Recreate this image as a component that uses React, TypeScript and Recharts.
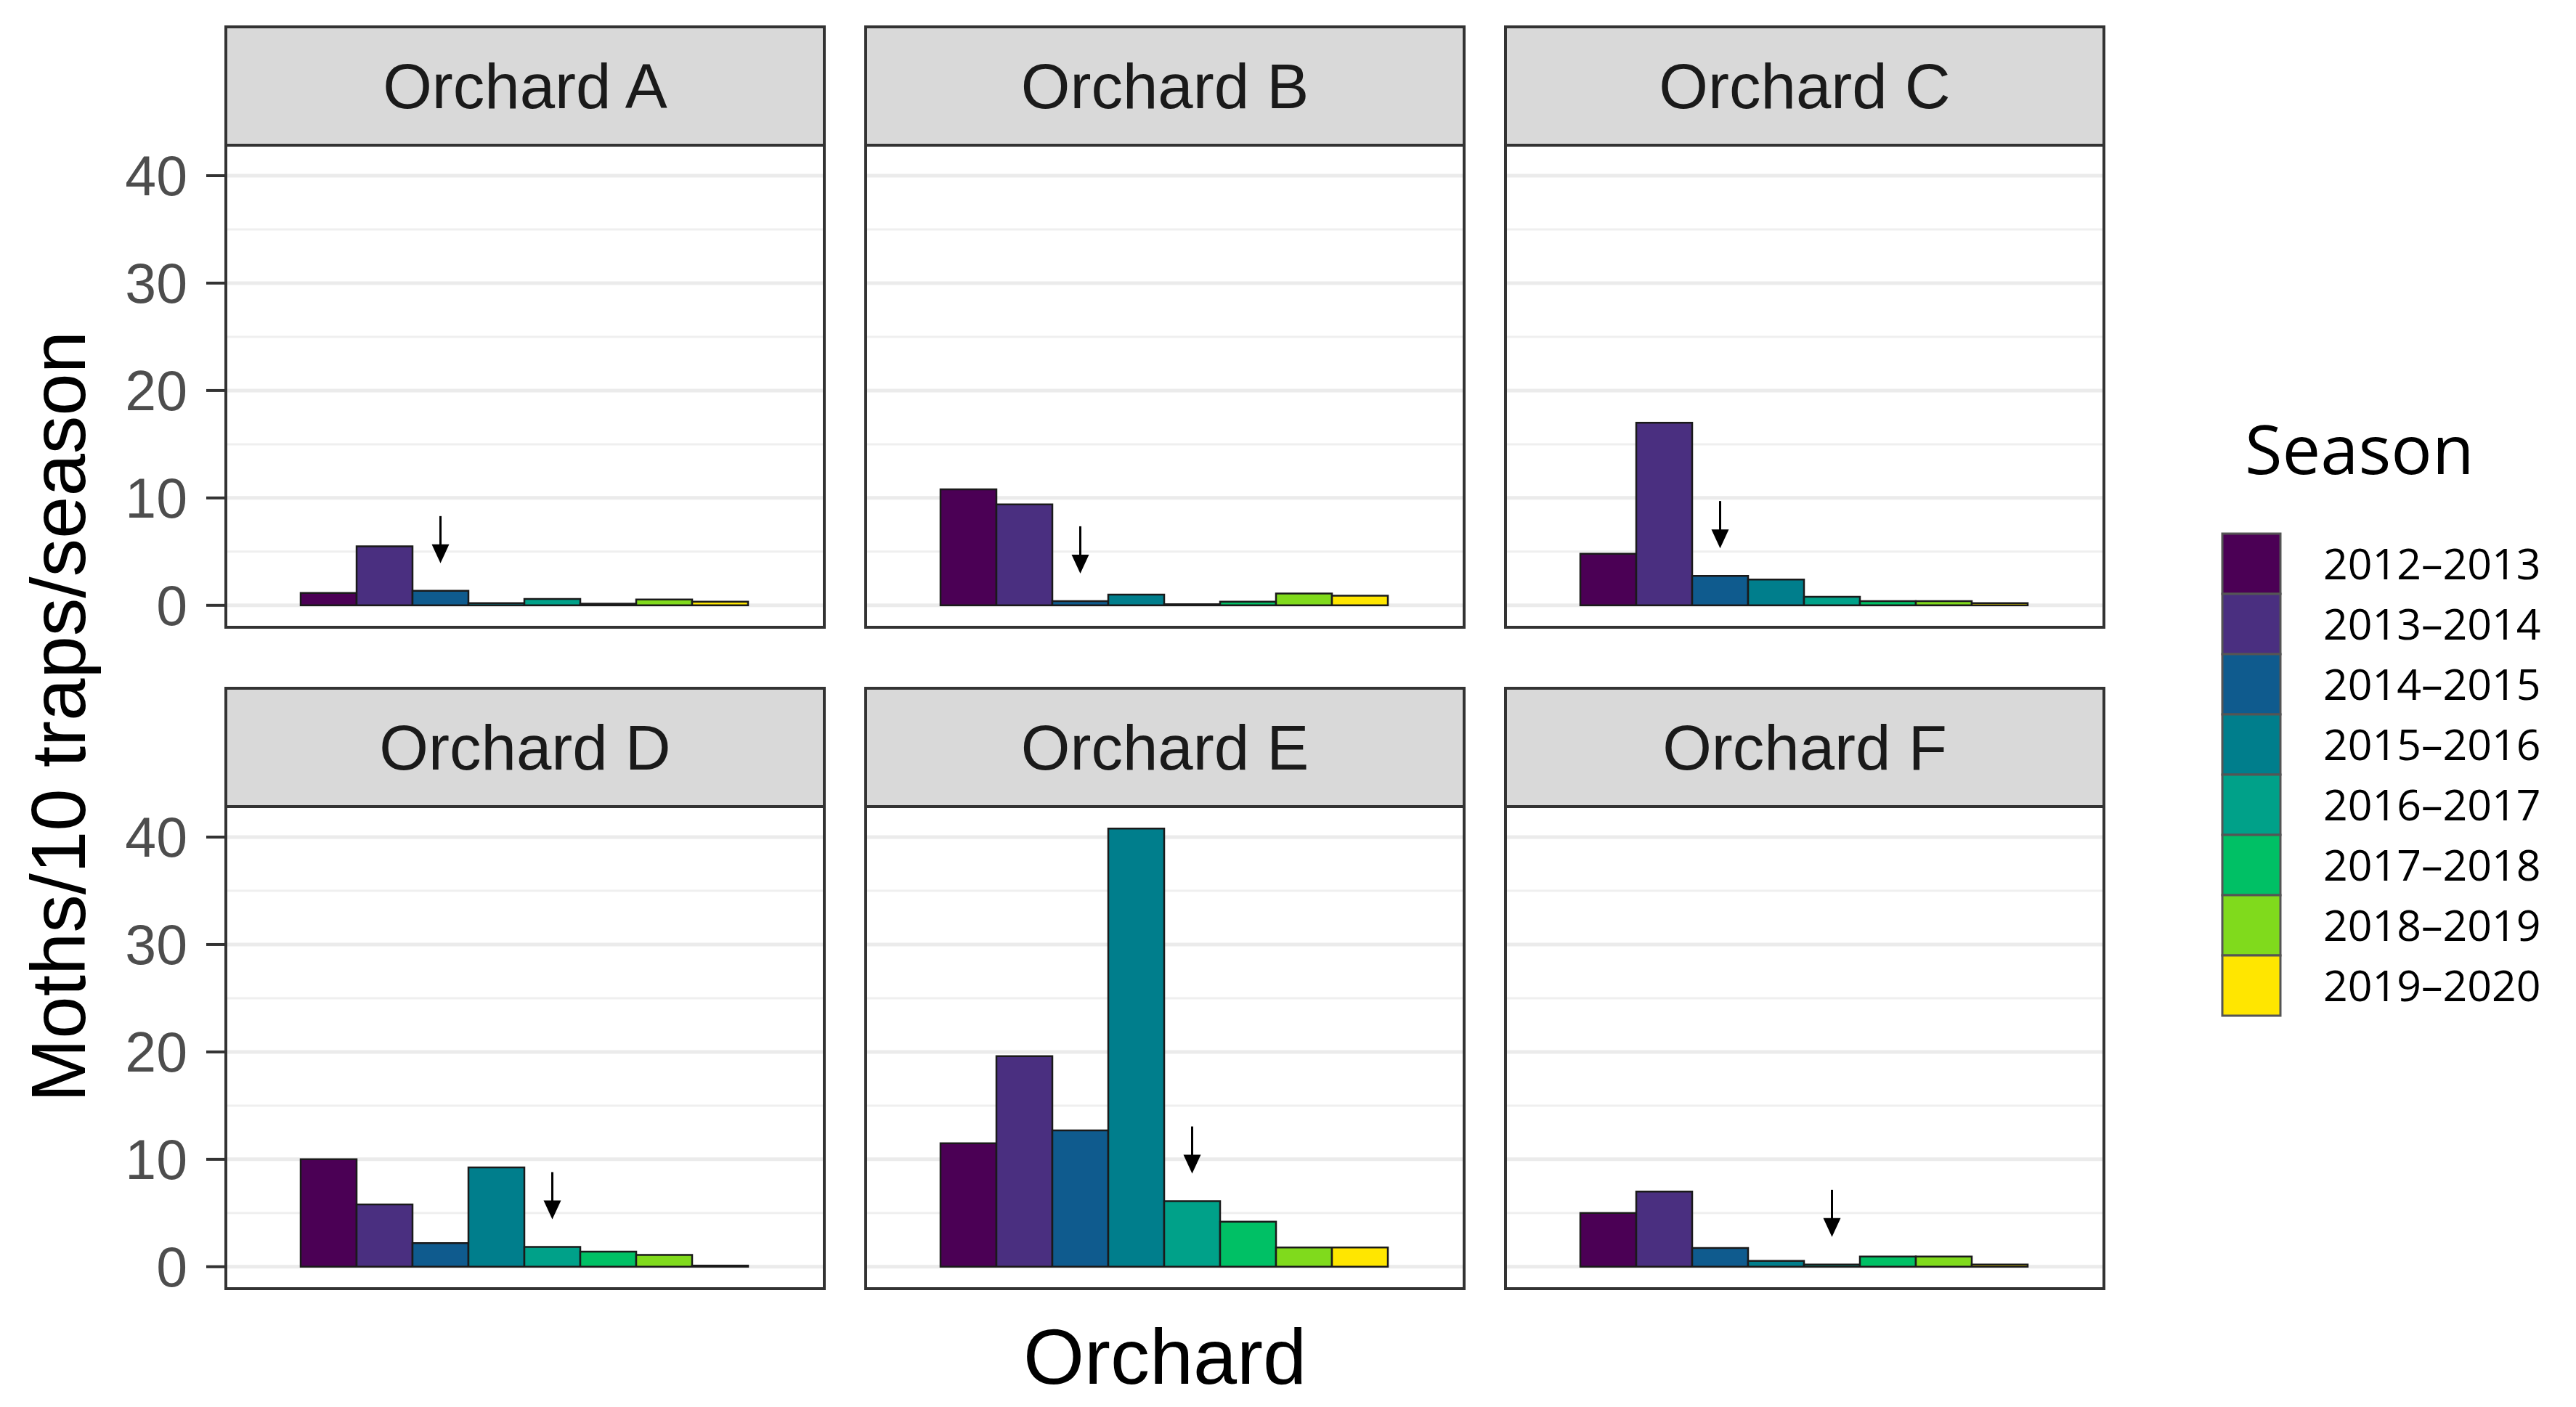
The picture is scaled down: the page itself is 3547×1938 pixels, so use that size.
import React from 'react';
import { BarChart, Bar, XAxis, YAxis, CartesianGrid } from 'recharts';

const seasons = ['2012–2013', '2013–2014', '2014–2015', '2015–2016', '2016–2017', '2017–2018', '2018–2019', '2019–2020'];
const seasonColors = ['#4B0055', '#4A2F80', '#0F5B8E', '#007E8C', '#00A189', '#00C065', '#80DA1C', '#FFE600'];
const orchards = ['Orchard A', 'Orchard B', 'Orchard C', 'Orchard D', 'Orchard E', 'Orchard F'];

const valuesA = [1.15, 5.5, 1.35, 0.2, 0.6, 0.15, 0.55, 0.35];
const valuesB = [10.8, 9.4, 0.4, 1.0, 0.1, 0.35, 1.1, 0.9];
const valuesC = [4.8, 17.0, 2.75, 2.4, 0.8, 0.4, 0.4, 0.2];
const valuesD = [10.0, 5.8, 2.2, 9.25, 1.85, 1.4, 1.1, 0.1];
const valuesE = [11.5, 19.6, 12.7, 40.8, 6.1, 4.2, 1.8, 1.8];
const valuesF = [5.0, 7.0, 1.75, 0.55, 0.2, 0.95, 0.95, 0.2];
const orchardValues = [valuesA, valuesB, valuesC, valuesD, valuesE, valuesF];

// season index marked with a downward arrow in each orchard
const arrowSeason = [2, 2, 2, 4, 4, 4];

const yTicks = [0, 10, 20, 30, 40];
const yMinorGrid = [5, 15, 25, 35];

const dataMax = Math.max(...orchardValues.flat());
const yDomain = [-0.05 * dataMax, 1.05 * dataMax];

const W = 3547;
const H = 1938;
const colLeft = [311, 1192, 2073];
const panelW = 824;
const stripTop = [37, 948];
const stripH = 163;
const plotH = 664;
const axisW = 311;
const padV = 50;

const sans = '"Liberation Sans", Arial, Helvetica, sans-serif';
const legendFont = '"Open Sans", "Noto Sans", sans-serif';

const makeArrow = (props: any) => {
  const vb = props.viewBox || props;
  const x = Number(vb.x);
  const y = Number(vb.y);
  const w = Number(vb.width);
  const cx = x + w / 2;
  const tip = y - 38;
  const top = tip - 65;
  return (
    <g>
      <line x1={cx} y1={top} x2={cx} y2={tip - 20} stroke="#000" strokeWidth={3} />
      <polygon points={`${cx - 12},${tip - 26} ${cx + 12},${tip - 26} ${cx},${tip}`} fill="#000" />
    </g>
  );
};

function Panel({ idx }: { idx: number }) {
  const col = idx % 3;
  const row = Math.floor(idx / 3);
  const vals = orchardValues[idx];
  const rowData: any = { name: orchards[idx] };
  seasons.forEach((s, i) => {
    rowData['s' + i] = vals[i];
  });
  const data = [rowData];
  const hasAxis = col === 0;
  const left = hasAxis ? colLeft[col] - axisW : colLeft[col];
  const width = hasAxis ? panelW + axisW : panelW;
  const top = stripTop[row] + stripH - padV;
  return (
    <div style={{ position: 'absolute', left, top, width, height: plotH + 2 * padV }}>
      <BarChart
        width={width}
        height={plotH + 2 * padV}
        data={data}
        margin={{ top: padV, right: 0, bottom: padV, left: 0 }}
        barCategoryGap="12.5%"
        barGap={0}
      >
        <CartesianGrid vertical={false} horizontalValues={yMinorGrid} stroke="#EFEFEF" strokeWidth={3} />
        <CartesianGrid vertical={false} horizontalValues={yTicks} stroke="#EBEBEB" strokeWidth={5} />
        <XAxis dataKey="name" hide />
        <YAxis
          type="number"
          domain={yDomain}
          allowDataOverflow
          ticks={yTicks}
          hide={!hasAxis}
          width={hasAxis ? axisW : 0}
          axisLine={false}
          tickSize={27}
          tickMargin={26}
          tickLine={{ stroke: '#333333', strokeWidth: 4 }}
          tick={{ fontSize: 77, fill: '#4D4D4D', fontFamily: sans }}
          interval={0}
        />
        {seasons.map((s, i) => (
          <Bar
            key={s}
            dataKey={'s' + i}
            name={s}
            fill={seasonColors[i]}
            stroke="#1A1A1A"
            strokeWidth={2.5}
            isAnimationActive={false}
            label={arrowSeason[idx] === i ? makeArrow : undefined}
          />
        ))}
      </BarChart>
    </div>
  );
}

function Overlay() {
  const legendTop = 735;
  const keyH = 83;
  return (
    <svg width={W} height={H} style={{ position: 'absolute', left: 0, top: 0, pointerEvents: 'none' }}>
      {orchards.map((o, idx) => {
        const col = idx % 3;
        const row = Math.floor(idx / 3);
        const x = colLeft[col];
        const sy = stripTop[row];
        return (
          <g key={o}>
            <rect x={x} y={sy} width={panelW} height={stripH} fill="#D9D9D9" stroke="#333333" strokeWidth={4} />
            <text x={x + panelW / 2} y={sy + 112} textAnchor="middle" fontSize={87} fontFamily={sans} fill="#1A1A1A">
              {o}
            </text>
            <rect x={x} y={sy + stripH} width={panelW} height={plotH} fill="none" stroke="#333333" strokeWidth={4} />
          </g>
        );
      })}
      <text
        transform={`translate(117, 987) rotate(-90)`}
        textAnchor="middle"
        fontSize={105}
        fontFamily={sans}
        fill="#000"
      >
        Moths/10 traps/season
      </text>
      <text x={1604} y={1906} textAnchor="middle" fontSize={108} fontFamily={sans} fill="#000">
        Orchard
      </text>
      <text x={3091} y={653} fontSize={94} fontFamily={legendFont} fill="#000">
        Season
      </text>
      {seasons.map((s, i) => (
        <g key={s}>
          <rect
            x={3060}
            y={legendTop + i * keyH}
            width={80}
            height={keyH}
            fill={seasonColors[i]}
            stroke="#555555"
            strokeWidth={3}
          />
          <text x={3199} y={legendTop + i * keyH + keyH / 2 + 21} fontSize={59} fontFamily={legendFont} fill="#000">
            {s}
          </text>
        </g>
      ))}
    </svg>
  );
}

export default function App() {
  return (
    <div style={{ position: 'relative', width: W, height: H, background: '#FFFFFF', overflow: 'hidden' }}>
      <style>{`body{margin:0;}`}</style>
      {orchards.map((o, idx) => (
        <Panel key={o} idx={idx} />
      ))}
      <Overlay />
    </div>
  );
}
